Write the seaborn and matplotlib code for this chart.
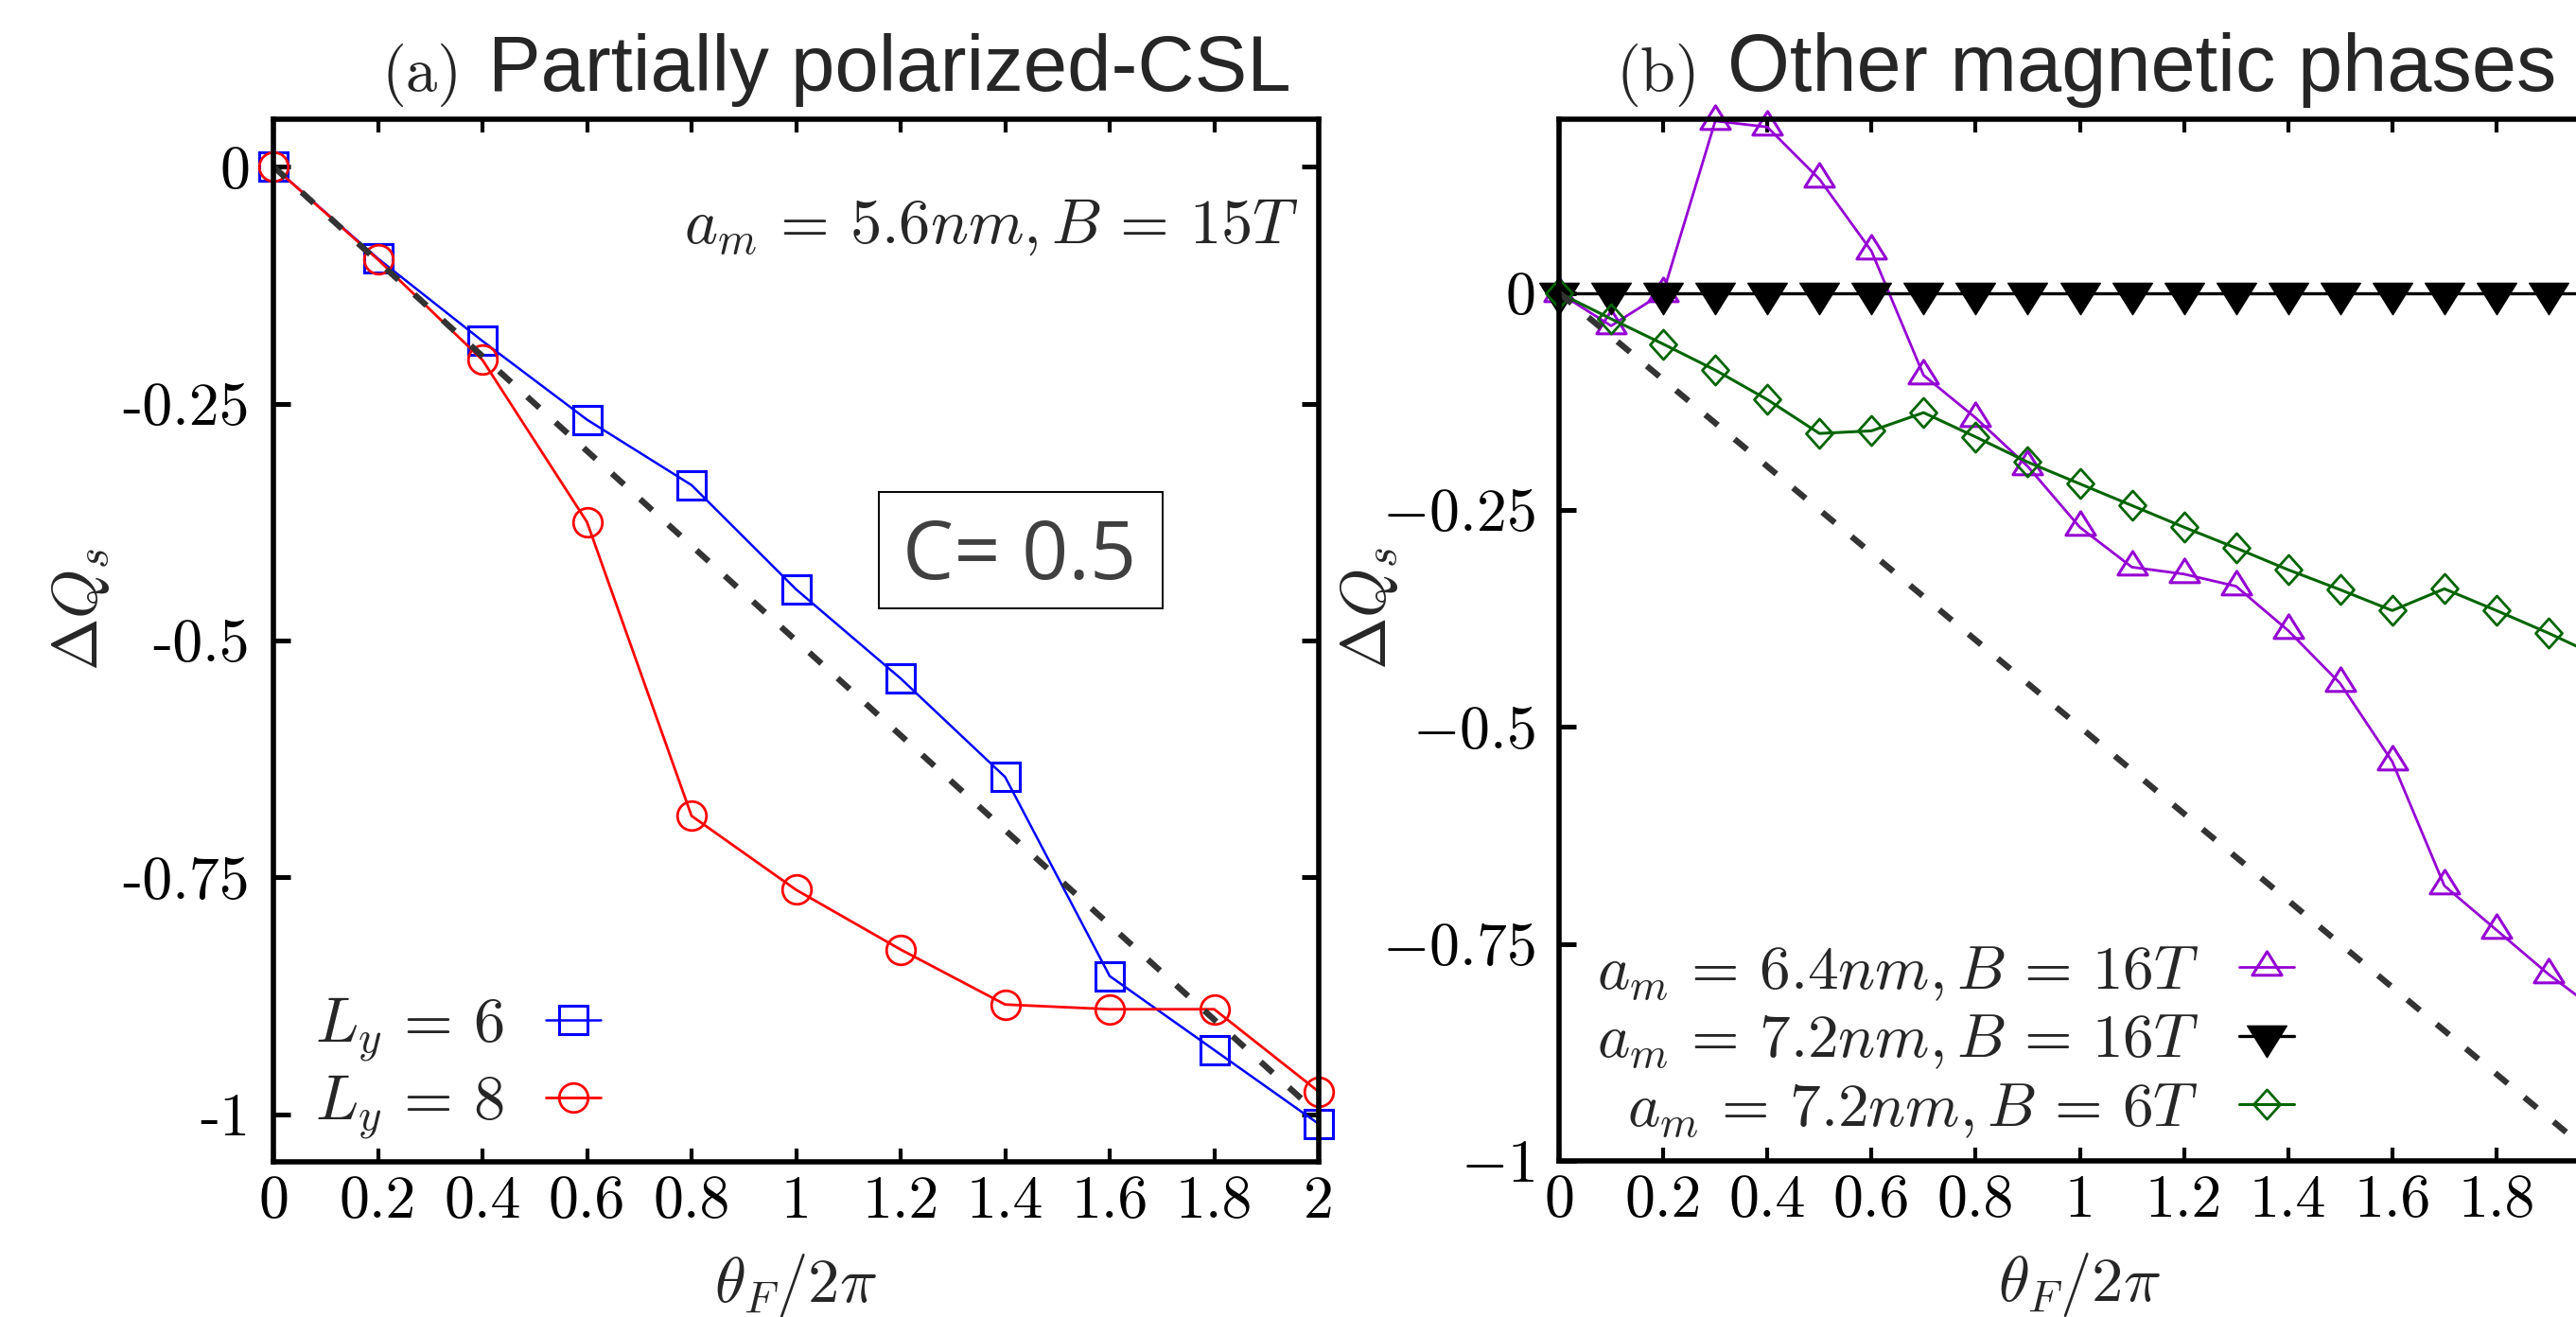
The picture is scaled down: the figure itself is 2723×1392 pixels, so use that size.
import matplotlib
matplotlib.use("Agg")   # no display in the sandbox
import matplotlib.pyplot as plt
from matplotlib.path import Path
from matplotlib.patches import Rectangle
import seaborn as sns

# ──────────────────────────────────────────────────────────────────────────────
# Data
# ──────────────────────────────────────────────────────────────────────────────

# panel (a): partially polarized CSL, a_m = 5.6nm, B = 15T
theta_a = [0.0, 0.2, 0.4, 0.6, 0.8, 1.0, 1.2, 1.4, 1.6, 1.8, 2.0]
dq_ly6 = [0.0, -0.097, -0.184, -0.267, -0.336, -0.446, -0.540, -0.644, -0.854, -0.932, -1.010]
dq_ly8 = [0.0, -0.098, -0.204, -0.375, -0.685, -0.763, -0.826, -0.884, -0.889, -0.889, -0.976]

# panel (b): other magnetic phases
theta_b = [0.0, 0.1, 0.2, 0.3, 0.4, 0.5, 0.6, 0.7, 0.8, 0.9, 1.0,
           1.1, 1.2, 1.3, 1.4, 1.5, 1.6, 1.7, 1.8, 1.9, 2.0]
dq_64_16T = [0.0, -0.038, 0.0, 0.198, 0.191, 0.131, 0.048, -0.095, -0.144, -0.200, -0.270,
             -0.316, -0.324, -0.338, -0.389, -0.450, -0.540, -0.683, -0.734, -0.785, -0.830]
dq_72_16T = [0.0, 0.0, 0.0, 0.0, 0.0, 0.0, 0.0, 0.0, 0.0, 0.0, 0.0,
             0.0, 0.0, 0.0, 0.0, 0.0, 0.0, 0.0, 0.0, 0.0, 0.0]
dq_72_6T = [0.0, -0.030, -0.059, -0.089, -0.123, -0.162, -0.159, -0.138, -0.166, -0.195, -0.220,
            -0.245, -0.270, -0.294, -0.319, -0.342, -0.366, -0.341, -0.366, -0.392, -0.420]

# quantised reference C = 0.5  ->  dQ = -theta/2
ref_theta = [0.0, 2.0]
ref_dq = [0.0, -1.0]

xticks = [0, 0.2, 0.4, 0.6, 0.8, 1, 1.2, 1.4, 1.6, 1.8, 2]
xtick_labels = ["0", "0.2", "0.4", "0.6", "0.8", "1", "1.2", "1.4", "1.6", "1.8", "2"]
yticks = [0, -0.25, -0.5, -0.75, -1]
ytick_labels_a = ["0", "-0.25", "-0.5", "-0.75", "-1"]
ytick_labels_b = ["0", "$-0.25$", "$-0.5$", "$-0.75$", "$-1$"]

# ──────────────────────────────────────────────────────────────────────────────
# Style
# ──────────────────────────────────────────────────────────────────────────────

sns.set_theme(style="ticks")
plt.rcParams.update({
    "font.family": ["cmr10", "DejaVu Serif"],
    "mathtext.fontset": "cm",
    "axes.unicode_minus": False,
    "axes.linewidth": 2.0,
    "axes.edgecolor": "black",
    "legend.numpoints": 1,
})

# gnuplot-like triangles, centred on their centroid
TRI_UP = Path([(-1, -0.533), (1, -0.533), (0, 1.067), (-1, -0.533)], closed=True)
TRI_DOWN = Path([(-1, 0.533), (1, 0.533), (0, -1.067), (-1, 0.533)], closed=True)
DIAMOND = Path([(0, 1), (0.9, 0), (0, -1), (-0.9, 0), (0, 1)], closed=True)

REF_STYLE = dict(color="#333333", lw=2.3, linestyle=(0, (2.7, 3.6)),
                 dash_capstyle="butt", errorbar=None)


def style_axes(ax, ylim, ylabels):
    ax.set_xlim(0, 2)
    ax.set_ylim(*ylim)
    ax.set_xticks(xticks)
    ax.set_xticklabels(xtick_labels)
    ax.set_yticks(yticks)
    ax.set_yticklabels(ylabels)
    ax.tick_params(axis="x", which="major", direction="in", top=True, bottom=True,
                   length=5, width=1.5, pad=5, labelsize=23, colors="black")
    ax.tick_params(axis="y", which="major", direction="in", left=True, right=True,
                   length=6.5, width=1.8, pad=9, labelsize=23, colors="black")
    for sp in ax.spines.values():
        sp.set_visible(True)
        sp.set_linewidth(2.0)
    ax.set_xlabel(r"$\theta_F/2\pi$", fontsize=24)
    ax.set_ylabel(r"$\Delta Q_s$", fontsize=24)
    ax.xaxis.set_label_coords(0.5, -0.086)
    ax.yaxis.set_label_coords(-0.155, 0.53)
    ax.grid(False)


fig = plt.figure(figsize=(13.615, 6.96), dpi=200)
# panel (b) runs past the right edge of the canvas, as in the reference
ax_a = fig.add_axes([289 / 2723, 164 / 1392, 1105 / 2723, 1102 / 1392])
ax_b = fig.add_axes([1648 / 2723, 165 / 1392, 1101 / 2723, 1101 / 1392])

# ── (a) Partially polarized-CSL ──────────────────────────────────────────────
sns.lineplot(x=theta_a, y=dq_ly6, ax=ax_a, color="blue", lw=0.9, marker="s",
             markersize=10.8, markerfacecolor="none", markeredgecolor="blue",
             markeredgewidth=1.1, clip_on=False, errorbar=None,
             label=r"$L_y \,=\, 6$")
sns.lineplot(x=theta_a, y=dq_ly8, ax=ax_a, color="red", lw=1.0, marker="o",
             markersize=11, markerfacecolor="none", markeredgecolor="red",
             markeredgewidth=1.0, clip_on=False, errorbar=None,
             label=r"$L_y \,=\, 8$")
sns.lineplot(x=ref_theta, y=ref_dq, ax=ax_a, **REF_STYLE)
style_axes(ax_a, (-1.05, 0.05), ytick_labels_a)

ax_a.text(0.981, 0.881, r"$a_m \,=\, 5.6nm, B \,=\, 15T$", transform=ax_a.transAxes,
          ha="right", va="baseline", fontsize=24)
ax_a.add_patch(Rectangle((0.579, 0.531), 0.2715, 0.1116, transform=ax_a.transAxes,
                         fill=False, ec="black", lw=0.7))
ax_a.text(0.7136, 0.559, "C= 0.5", transform=ax_a.transAxes, ha="center",
          va="baseline", fontsize=31, family="Open Sans", color="#404040")

ax_a.text(0.104, 1.027, "(a)", transform=ax_a.transAxes, ha="left",
          va="baseline", fontsize=24)
ax_a.text(0.2054, 1.027, "Partially polarized-CSL", transform=ax_a.transAxes,
          ha="left", va="baseline", fontsize=30, family="Liberation Sans")

h, l = ax_a.get_legend_handles_labels()
ax_a.legend(h, l, loc="lower left", bbox_to_anchor=(0.04, 0.02), frameon=False,
            markerfirst=False, fontsize=24, handlelength=0.87, handletextpad=0.66,
            labelspacing=0.15, borderpad=0, borderaxespad=0)

# ── (b) Other magnetic phases ────────────────────────────────────────────────
sns.lineplot(x=theta_b, y=dq_64_16T, ax=ax_b, color="#9400D3", lw=1.0, marker=TRI_UP,
             markersize=12, markerfacecolor="none", markeredgecolor="#9400D3",
             markeredgewidth=1.1, clip_on=False, errorbar=None,
             label=r"$a_m \,=\, 6.4nm, B \,=\, 16T$")
sns.lineplot(x=theta_b, y=dq_72_16T, ax=ax_b, color="black", lw=1.2, marker=TRI_DOWN,
             markersize=16, markerfacecolor="black", markeredgecolor="black",
             markeredgewidth=0.5, clip_on=False, errorbar=None,
             label=r"$a_m \,=\, 7.2nm, B \,=\, 16T$")
sns.lineplot(x=theta_b, y=dq_72_6T, ax=ax_b, color="#006400", lw=1.1, marker=DIAMOND,
             markersize=11.2, markerfacecolor="none", markeredgecolor="#006400",
             markeredgewidth=1.0, clip_on=False, errorbar=None,
             label=r"$a_m \,=\, 7.2nm, B \,=\, 6T$")
sns.lineplot(x=ref_theta, y=ref_dq, ax=ax_b, **REF_STYLE)
style_axes(ax_b, (-1.0, 0.2), ytick_labels_b)
ax_b.yaxis.set_label_coords(-0.153, 0.53)

ax_b.text(0.0545, 1.027, "(b)", transform=ax_b.transAxes, ha="left",
          va="baseline", fontsize=24)
ax_b.text(0.1617, 1.027, "Other magnetic phases", transform=ax_b.transAxes,
          ha="left", va="baseline", fontsize=30.5, family="Liberation Sans")

h, l = ax_b.get_legend_handles_labels()
ax_b.legend(h, l, loc="lower left", bbox_to_anchor=(0.036, 0.02), frameon=False,
            markerfirst=False, fontsize=23.5, handlelength=0.89, handletextpad=0.66,
            labelspacing=0.17, borderpad=0, borderaxespad=0)

fig.savefig("out.png", dpi=200)
plt.close(fig)
